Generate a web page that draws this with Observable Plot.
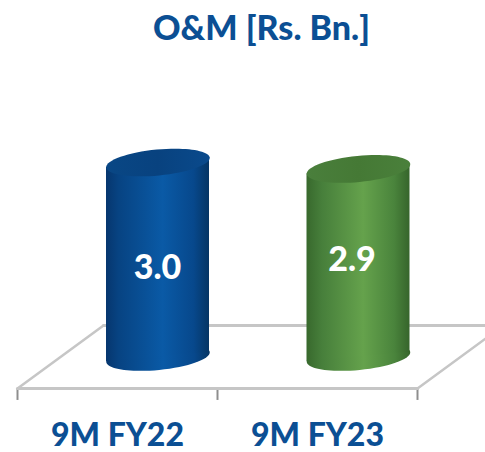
<!DOCTYPE html>
<html>
<head>
<meta charset="utf-8">
<script src="https://cdn.jsdelivr.net/npm/d3@7"></script>
<script src="https://cdn.jsdelivr.net/npm/@observablehq/plot@0.6"></script>
<style>
  html, body { margin: 0; padding: 0; background: #fff; overflow: hidden; }
  #title { height: 58px; box-sizing: border-box; padding-top: 6px; padding-left: 38px; text-align: center; font: 900 34px Lato, sans-serif; color: #0b4f94; line-height: 42px; white-space: nowrap; }
</style>
</head>
<body>
<div id="title">O&amp;M [Rs. Bn.]</div>
<div id="chart"></div>
<script>
const categories = ["9M FY22", "9M FY23"];
const values = [3.0, 2.9];
const valueLabels = ["3.0", "2.9"];
const labelLevels = [1.365, 1.49];
const labelCenters = [0.7, 1.6725];
const bandTicks = [0, 1, 2];
const bandCenters = [0.5, 1.5];
const floorFront = -0.486;
const floorBack = 0.486;
const floorShift = 0.43;
const floorEnd = 2.43;
const tickEnd = -0.67;
const barCenters = [0.7025, 1.705];
const barHalf = 0.2575;
const tilt = 0.075;

const bodyGradients = ["bluebody", "greenbody"];
const capGradients = ["bluecap", "greencap"];

function ellipse(a, b, deg) {
  const t = deg * Math.PI / 180, c = Math.cos(t), s = Math.sin(t), k = 0.5523;
  const p = (x, y) => [x * c - y * s, x * s + y * c];
  return {
    draw(ctx) {
      ctx.moveTo(...p(a, 0));
      ctx.bezierCurveTo(...p(a, k * b), ...p(k * a, b), ...p(0, b));
      ctx.bezierCurveTo(...p(-k * a, b), ...p(-a, k * b), ...p(-a, 0));
      ctx.bezierCurveTo(...p(-a, -k * b), ...p(-k * a, -b), ...p(0, -b));
      ctx.bezierCurveTo(...p(k * a, -b), ...p(a, -k * b), ...p(a, 0));
      ctx.closePath();
    }
  };
}
const capShape = ellipse(52, 13, -5.5);

function gradients() {
  const defs = d3.create("svg:defs");
  const add = (id, stops) => {
    const g = defs.append("linearGradient").attr("id", id)
      .attr("x1", 0).attr("x2", 1).attr("y1", 0).attr("y2", 0);
    stops.forEach(([o, c]) => g.append("stop").attr("offset", o).attr("stop-color", c));
  };
  add("bluebody", [[0, "#06366e"], [0.12, "#074382"], [0.55, "#0a5aa6"], [0.85, "#07488c"], [1, "#053564"]]);
  add("greenbody", [[0, "#38692d"], [0.15, "#477f3b"], [0.55, "#65a24c"], [0.85, "#4a843c"], [1, "#36652b"]]);
  add("bluecap", [[0, "#094785"], [0.5, "#08427f"], [1, "#0a4a8c"]]);
  add("greencap", [[0, "#4a7f3c"], [0.5, "#457935"], [1, "#4a803b"]]);
  return defs.node();
}

const cylinders = values.flatMap((v, i) => {
  const edge = [
    {x: barCenters[i] - barHalf, y1: -tilt, y2: v - tilt},
    {x: barCenters[i] + barHalf, y1: tilt, y2: v + tilt}
  ];
  return [
    Plot.dot([{x: barCenters[i], y: 0}], {x: "x", y: "y", r: 10, symbol: capShape, fill: `url(#${bodyGradients[i]})`}),
    Plot.areaY(edge, {x: "x", y1: "y1", y2: "y2", fill: `url(#${bodyGradients[i]})`}),
    Plot.dot([{x: barCenters[i], y: v}], {x: "x", y: "y", r: 10, symbol: capShape, fill: `url(#${capGradients[i]})`})
  ];
});

const floorColor = "#c6c6c6";
const chart = Plot.plot({
  width: 485,
  height: 394,
  marginTop: 0, marginRight: 0, marginLeft: 0, marginBottom: 30,
  x: {domain: [0, 2], range: [17, 417]},
  y: {domain: [0, 3], range: [298.5, 104], axis: null},
  marks: [
    gradients,
    Plot.ruleX(bandTicks, {x: d => d, y1: floorFront, y2: tickEnd, stroke: "#8e8e8e", strokeWidth: 2}),
    Plot.line([{x: floorShift, y: floorBack}, {x: floorEnd, y: floorBack}], {x: "x", y: "y", stroke: floorColor, strokeWidth: 3}),
    Plot.line([{x: 0, y: floorFront}, {x: floorShift, y: floorBack}], {x: "x", y: "y", stroke: floorColor, strokeWidth: 2.5}),
    Plot.line([{x: 2, y: floorFront}, {x: floorEnd, y: floorBack}], {x: "x", y: "y", stroke: floorColor, strokeWidth: 2.5}),
    Plot.line([{x: 0, y: floorFront}, {x: 2, y: floorFront}], {x: "x", y: "y", stroke: floorColor, strokeWidth: 3}),
    ...cylinders,
    Plot.text(values, {
      x: (d, i) => labelCenters[i],
      y: (d, i) => labelLevels[i],
      text: (d, i) => valueLabels[i],
      fill: "white",
      fontWeight: 900,
      fontSize: 34,
      fontFamily: "Lato, sans-serif"
    }),
    Plot.axisX(bandCenters, {
      anchor: "bottom",
      tickSize: 0,
      tickPadding: 1,
      tickFormat: (d, i) => categories[i],
      fontSize: 32,
      fontWeight: 900,
      fontFamily: "Lato, sans-serif",
      fill: "#0b4f94",
      label: null
    })
  ]
});
document.getElementById("chart").append(chart);
</script>
</body>
</html>
